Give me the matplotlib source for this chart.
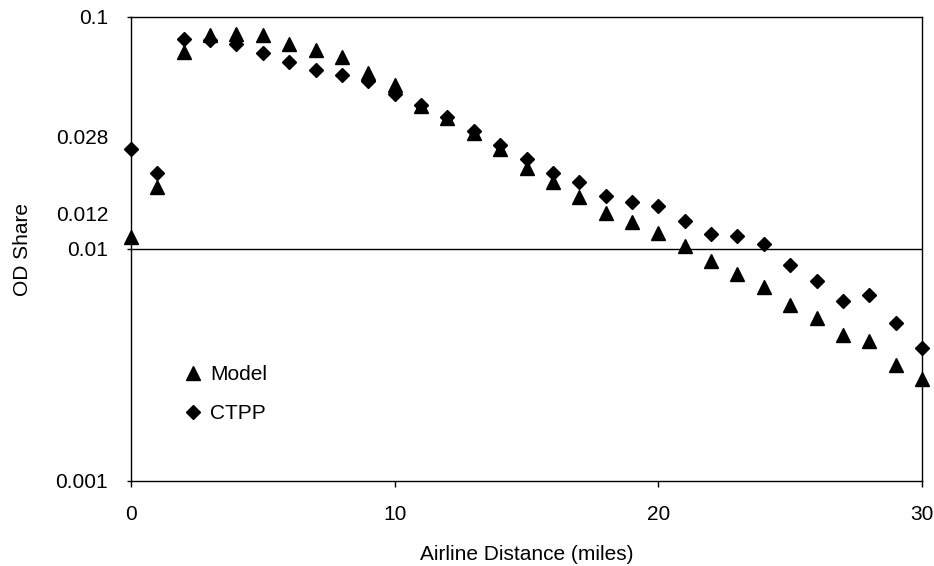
import matplotlib.pyplot as plt
from matplotlib.ticker import FixedLocator, FixedFormatter
from matplotlib.lines import Line2D

plt.rcParams['font.family'] = ['Liberation Sans', 'DejaVu Sans']

# airline distance in miles
dist = list(range(31))

# OD share
model = [0.0113, 0.0185, 0.0706, 0.0836, 0.0845, 0.0836, 0.0765, 0.0721, 0.0672, 0.0574,
         0.0509, 0.0413, 0.0367, 0.0316, 0.0270, 0.0223, 0.0195, 0.0168, 0.0143, 0.0131,
         0.0117, 0.0103, 0.00888, 0.00780, 0.00686, 0.00574, 0.00505, 0.00426, 0.00401,
         0.00316, 0.00275]
ctpp = [0.0270, 0.0213, 0.0804, 0.0796, 0.0765, 0.0700, 0.0640, 0.0591, 0.0562, 0.0530,
        0.0466, 0.0418, 0.0371, 0.0323, 0.0281, 0.0244, 0.0213, 0.0195, 0.0169, 0.0160,
        0.0153, 0.0132, 0.0116, 0.0114, 0.0105, 0.00853, 0.00728, 0.00597, 0.00634,
        0.00480, 0.00374]

major_ticks = [0.001, 0.01, 0.1]
major_labels = ['0.001', '0.01', '0.1']
# extra labels, sitting where the original chart put them
extra_pos = [0.0304, 0.0142]
extra_labels = ['0.028', '0.012']

fs = 15

fig = plt.figure(figsize=(9.34, 5.66), dpi=100)
ax = fig.add_axes([131/934, 1-481/566, (922-131)/934, (481-17)/566])

ax.plot(dist, model, ls='none', marker='^', ms=10, color='black', clip_on=False, zorder=3)
ax.plot(dist, ctpp, ls='none', marker='D', ms=7.5, color='black', clip_on=False, zorder=3)
ax.axhline(0.01, color='black', lw=1)

ax.set_yscale('log')
ax.set_ylim(0.001, 0.1)
ax.set_xlim(0, 30)

ax.yaxis.set_major_locator(FixedLocator(major_ticks))
ax.yaxis.set_major_formatter(FixedFormatter(major_labels))
ax.yaxis.set_minor_locator(FixedLocator(extra_pos))
ax.yaxis.set_minor_formatter(FixedFormatter(extra_labels))
ax.tick_params(axis='y', which='major', length=3, width=1, pad=13.5, labelsize=fs)
ax.tick_params(axis='y', which='minor', length=0, pad=16.5, labelsize=fs)
ax.set_xticks([0, 10, 20, 30])
ax.tick_params(axis='x', length=4, width=1, pad=13.5, labelsize=fs)

for s in ax.spines.values():
    s.set_linewidth(1)
    s.set_color('black')

ax.set_xlabel('Airline Distance (miles)', fontsize=fs, labelpad=15)
ax.set_ylabel('OD Share', fontsize=fs, labelpad=17)

handles = [Line2D([], [], ls='none', marker='^', ms=9.5, color='black'),
           Line2D([], [], ls='none', marker='D', ms=7, color='black')]
ax.legend(handles, ['Model', 'CTPP'], frameon=False, loc='center left',
          bbox_to_anchor=(0.068, 0.1875), fontsize=fs, handlelength=0.8,
          handletextpad=0.4, labelspacing=0.95, borderpad=0, borderaxespad=0)

fig.savefig('out.png', dpi=100)
